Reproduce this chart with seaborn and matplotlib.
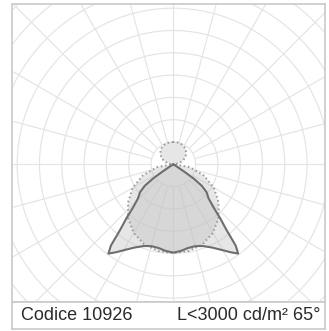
import numpy as np
import seaborn as sns
import matplotlib.pyplot as plt

# photometric curves, intensity in ring units (1 ring = 50 cd/klm), gamma in degrees
gamma_c0 = [0, 5, 10, 15, 20, 25, 30, 33, 36, 37.5, 39, 41, 43, 46, 50, 53, 55, 56, 57, 60, 90, 180]
inten_c0 = [3.96, 3.9, 3.81, 3.8, 3.9, 4.12, 4.45, 4.7, 4.95, 4.6, 3.8, 3.2, 2.65, 2.2, 1.95, 1.6, 1.1, 0.6, 0.2, 0.0, 0.0, 0.0]

gamma_c90 = [0, 10, 20, 30, 40, 50, 60, 70, 80, 90, 100, 110, 120, 130, 140, 150, 160, 170, 180]
inten_c90 = [3.98, 3.95, 3.82, 3.55, 3.15, 2.65, 2.1, 1.45, 0.75, 0.05, 0.25, 0.45, 0.62, 0.76, 0.87, 0.94, 0.98, 1.0, 1.0]

code_label = "Codice 10926"
lum_label = "L<3000 cd/m² 65°"

sns.set_style("white")
plt.rcParams['font.family'] = ['Liberation Sans', 'DejaVu Sans']

fig = plt.figure(figsize=(3.29, 3.31), dpi=100)
ax = fig.add_axes([11.5 / 329, 29 / 331, 313.5 / 329, 298 / 331])
band = fig.add_axes([11.5 / 329, 2 / 331, 313.5 / 329, 27 / 331])

frame_col = "#cacaca"
grid_col = "#e4e4e4"

# polar grid: rings and 15 degree spokes
t = np.linspace(0, 2 * np.pi, 400)
for r in range(1, 12):
    ax.plot(r * np.cos(t), r * np.sin(t), color=grid_col, lw=0.85, zorder=1)
for a in np.arange(0, 360, 15):
    th = np.radians(a)
    ax.plot([np.cos(th), 12 * np.cos(th)], [np.sin(th), 12 * np.sin(th)],
            color=grid_col, lw=0.85, zorder=1)


def to_xy(gam, inten):
    g = np.radians(np.concatenate([-np.array(gam)[::-1], np.array(gam)]))
    r = np.concatenate([np.array(inten)[::-1], np.array(inten)])
    return r * np.sin(g), -r * np.cos(g)


x0, y0 = to_xy(gamma_c0, inten_c0)
x90, y90 = to_xy(gamma_c90, inten_c90)

ax.fill(x0, y0, color="#c4c4c4", alpha=0.42, lw=0, zorder=2)
ax.fill(x90, y90, color="#c4c4c4", alpha=0.42, lw=0, zorder=2)

sns.lineplot(x=x90, y=y90, sort=False, estimator=None, ax=ax, color="#9a9a9a",
             lw=1.4, linestyle=(0, (0.8, 1.4)), zorder=3)
sns.lineplot(x=x0, y=y0, sort=False, estimator=None, ax=ax, color="#6e6e6e",
             lw=1.5, zorder=4)

ax.set_xlim(-7.256, 6.803)
ax.set_ylim(-6.175, 7.188)
ax.set_xticks([])
ax.set_yticks([])
ax.set_xlabel("")
ax.set_ylabel("")
for s in ax.spines.values():
    s.set_color(frame_col)
    s.set_linewidth(1.2)

band.set_xlim(0, 313.5)
band.set_ylim(0, 27)
band.set_xticks([])
band.set_yticks([])
for s in band.spines.values():
    s.set_color(frame_col)
    s.set_linewidth(1.2)
band.text(9.5, 13, code_label, fontsize=13, color="#2a2a2a", va="center", ha="left")
band.text(309, 13, lum_label, fontsize=13, color="#2a2a2a", va="center", ha="right")

fig.savefig("out.png", dpi=100)
